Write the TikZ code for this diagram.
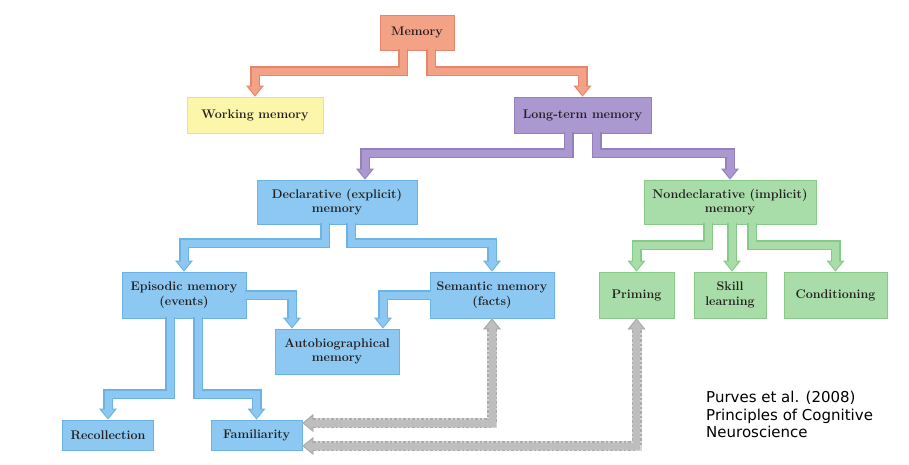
\documentclass[tikz,border=0pt]{standalone}
\usepackage{fontspec}
\newfontfamily\creditfont{DejaVu Sans}
\usetikzlibrary{arrows.meta}

\definecolor{salmon}{HTML}{F4A285}
\definecolor{salmonline}{HTML}{E5856B}
\definecolor{butter}{HTML}{FCF6AA}
\definecolor{butterline}{HTML}{EDE08A}
\definecolor{lilac}{HTML}{AC98D0}
\definecolor{lilacline}{HTML}{9580BE}
\definecolor{sky}{HTML}{8CC8F1}
\definecolor{skyline}{HTML}{6CB3E4}
\definecolor{mint}{HTML}{A8DCA8}
\definecolor{mintline}{HTML}{88C889}
\definecolor{stone}{HTML}{BEBEBE}
\definecolor{stonepale}{HTML}{D6D6D6}
\definecolor{stoneline}{HTML}{ABABAB}
\definecolor{ink}{HTML}{231F20}

\tikzset{
  box/.style={shape=rectangle,draw=#1line,fill=#1,line width=0.8pt,text=ink,
    font=\bfseries\fontsize{12.5}{14.5}\selectfont,align=center,inner sep=2pt},
  pipe/.style={draw=#1,line width=7pt,shorten >=1.5pt,
    -{Triangle[width=13pt,length=8.5pt,line width=0pt]},
    preaction={draw=#1line,line width=10pt,shorten >=0pt,
      -{Triangle[width=18pt,length=11pt,line width=0pt]}}},
  linkpipe/.style={draw=stone,line width=7pt,shorten >=1.5pt,shorten <=1.5pt,
    {Triangle[width=13pt,length=8.5pt,line width=0pt]}-{Triangle[width=13pt,length=8.5pt,line width=0pt]},
    preaction={draw=stonepale,line width=10pt,shorten >=0pt,shorten <=0pt,
      {Triangle[width=18pt,length=11pt,line width=0pt]}-{Triangle[width=18pt,length=11pt,line width=0pt]}},
    preaction={draw=stoneline,dash pattern=on 2.5pt off 2pt,line width=10pt,
      shorten >=0pt,shorten <=0pt,
      {Triangle[width=18pt,length=11pt,line width=0pt]}-{Triangle[width=18pt,length=11pt,line width=0pt]}}}
}

\begin{document}
\begin{tikzpicture}[x=1pt,y=-1pt]
                \useasboundingbox (0,0) rectangle (909,465);
                % top levels
                \node[box=salmon,minimum width=74pt,minimum height=35pt](mem)at(417, 32.5){Memory};
                \node[box=butter,minimum width=136pt,minimum height=36pt](wm)at(255, 115){Working memory};
                \node[box=lilac,minimum width=137pt,minimum height=36pt](ltm)at(582.5, 115){Long-term memory};
                \node[box=sky,minimum width=160pt,minimum height=44pt](decl)at(337, 202){Declarative (explicit)\\memory};
                \node[box=mint,minimum width=172pt,minimum height=44pt](nondecl)at(730, 202){Nondeclarative (implicit)\\memory};

                % declarative branch
                \node[box=sky,minimum width=124pt,minimum height=46pt](epi)at(184, 295){Episodic memory\\(events)};
                \node[box=sky,minimum width=124pt,minimum height=46pt](sem)at(492, 295){Semantic memory\\(facts)};
                \node[box=sky,minimum width=124pt,minimum height=45pt](auto)at(337, 351.5){Autobiographical\\memory};
                \node[box=sky,minimum width=91pt,minimum height=30pt](rec)at(108, 435){Recollection};
                \node[box=sky,minimum width=91pt,minimum height=30pt](fam)at(256.5, 435){Familiarity};

                % nondeclarative branch
                \node[box=mint,minimum width=75pt,minimum height=46pt](prim)at(636.5, 295){Priming};
                \node[box=mint,minimum width=72pt,minimum height=46pt](skill)at(730, 295){Skill\\learning};
                \node[box=mint,minimum width=103pt,minimum height=46pt](cond)at(835.5, 295){Conditioning};

                \node[anchor=north west,inner sep=0pt,align=left,text=black,
                  font=\creditfont\fontsize{15}{17.5}\selectfont](credit)at(706, 391)
                  {Purves et al. (2008)\\Principles of Cognitive\\Neuroscience};

                \draw[pipe=salmon] ([xshift=-14pt,yshift=1pt]mem.south) -- ++(0,22) -| (wm.north);
                \draw[pipe=salmon] ([xshift=14pt,yshift=1pt]mem.south) -- ++(0,22) -| (ltm.north);

                \draw[pipe=lilac] ([xshift=-14pt,yshift=1pt]ltm.south) -- ++(0,21) -| ([xshift=28pt]decl.north);
                \draw[pipe=lilac] ([xshift=14pt,yshift=1pt]ltm.south) -- ++(0,21) -| (nondecl.north);

                \draw[pipe=sky] ([xshift=-12pt,yshift=1pt]decl.south) -- ++(0,20) -| (epi.north);
                \draw[pipe=sky] ([xshift=14pt,yshift=1pt]decl.south) -- ++(0,20) -| (sem.north);
                \draw[pipe=sky] ([xshift=-1pt]epi.east) -| ([xshift=-45pt]auto.north);
                \draw[pipe=sky] ([xshift=1pt]sem.west) -| ([xshift=46pt]auto.north);
                \draw[pipe=sky] ([xshift=-14pt,yshift=1pt]epi.south) -- ++(0,77) -| (rec.north);
                \draw[pipe=sky] ([xshift=14pt,yshift=1pt]epi.south) -- ++(0,77) -| (fam.north);

                \draw[pipe=mint] ([xshift=-22pt,yshift=1pt]nondecl.south) -- ++(0,22) -| (prim.north);
                \draw[pipe=mint] ([xshift=2pt,yshift=1pt]nondecl.south) -- ([xshift=2pt]skill.north);
                \draw[pipe=mint] ([xshift=22pt,yshift=1pt]nondecl.south) -- ++(0,22) -| (cond.north);

                % links back to familiarity
                \draw[linkpipe] ([yshift=12pt]fam.east) -| (sem.south);
                \draw[linkpipe] ([yshift=-11pt]fam.east) -| (prim.south);
\end{tikzpicture}
\end{document}
